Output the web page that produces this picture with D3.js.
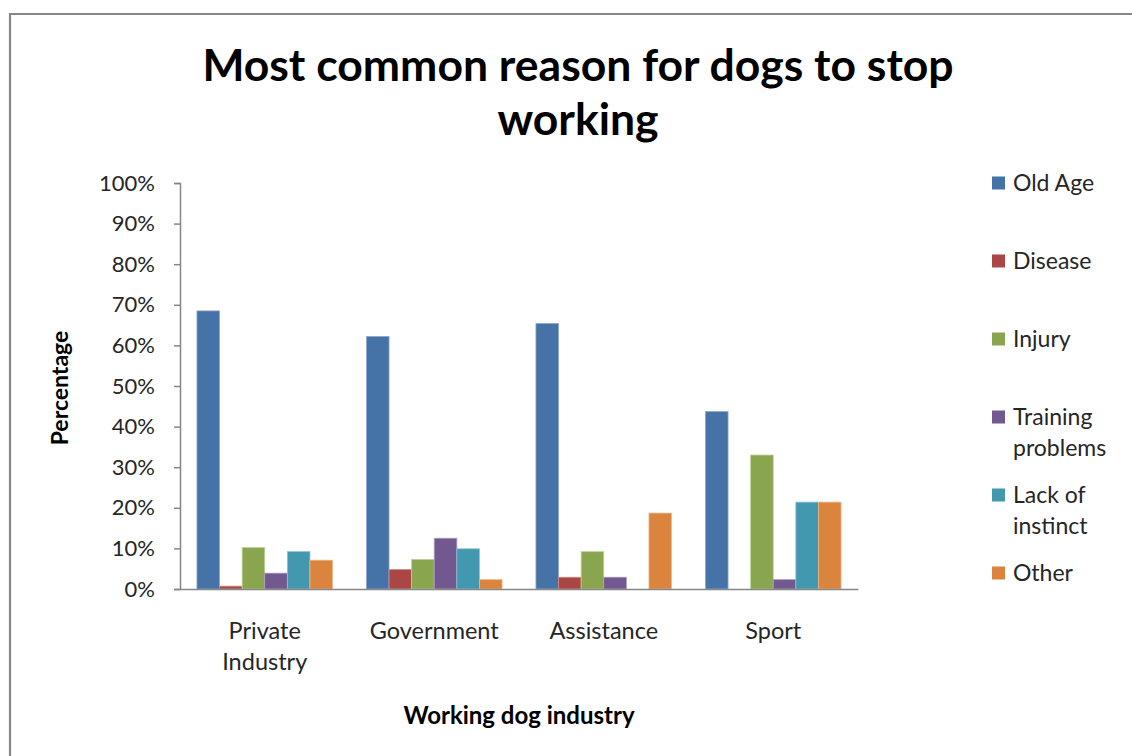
<!DOCTYPE html>
<html>
<head>
<meta charset="utf-8">
<script src="https://cdn.jsdelivr.net/npm/d3@7"></script>
<style>
  html, body { margin: 0; padding: 0; background: #fff; overflow: hidden; }
  svg { display: block; font-family: Lato, "Open Sans", sans-serif; }
</style>
</head>
<body>
<svg id="chart" width="1132" height="756"></svg>
<script>
// Working dog industries along the x axis
const categories = ["Private Industry", "Government", "Assistance", "Sport"];

// Reasons for retirement (percent of dogs in each industry)
const seriesNames = ["Old Age", "Disease", "Injury", "Training problems", "Lack of instinct", "Other"];
const oldAge         = [68.5, 62.2, 65.4, 43.7];
const disease        = [0.7, 4.8, 2.9, 0];
const injury         = [10.2, 7.3, 9.2, 33.0];
const trainingProbs  = [3.9, 12.5, 2.9, 2.3];
const lackOfInstinct = [9.2, 9.9, 0, 21.4];
const other          = [7.1, 2.3, 18.7, 21.4];

const yTicks = [0, 10, 20, 30, 40, 50, 60, 70, 80, 90, 100];

const seriesValues = [oldAge, disease, injury, trainingProbs, lackOfInstinct, other];
const colors = ["#4572A7", "#AA4643", "#89A54E", "#71588F", "#4198AF", "#DB843D"];
const strokes = ["#8FA9CE", "#CF8D8B", "#BFD39C", "#A898BD", "#8CC3D2", "#EDB78A"];

const svg = d3.select("#chart");

// Chart frame: only its top and left edges fall inside the page
svg.append("path")
  .attr("d", "M10,756 L10,14 L1132,14")
  .attr("fill", "none")
  .attr("stroke", "#878787")
  .attr("stroke-width", 2.2);

const plot = { left: 180, right: 858, top: 183, bottom: 589 };

const x = d3.scaleBand()
  .domain(categories)
  .range([plot.left, plot.right])
  .paddingInner(0.2)
  .paddingOuter(0.1);

const xInner = d3.scaleBand()
  .domain(seriesNames)
  .range([0, x.bandwidth()]);

const y = d3.scaleLinear()
  .domain([0, 100])
  .range([plot.bottom, plot.top]);

// Bars
const groups = svg.append("g").selectAll("g")
  .data(categories)
  .join("g")
  .attr("transform", d => `translate(${x(d)},0)`);

groups.selectAll("rect")
  .data((c, ci) => seriesNames.map((s, si) => ({ s, si, v: seriesValues[si][ci] })))
  .join("rect")
  .filter(d => d.v > 0)
  .attr("x", d => xInner(d.s))
  .attr("y", d => y(d.v))
  .attr("width", xInner.bandwidth())
  .attr("height", d => y(0) - y(d.v))
  .attr("fill", d => colors[d.si])
  .attr("stroke", d => strokes[d.si])
  .attr("stroke-width", 0.8);

// Y axis
const yAxis = svg.append("g")
  .attr("transform", `translate(${plot.left},0)`)
  .call(d3.axisLeft(y).tickValues(yTicks).tickSize(6).tickPadding(19).tickFormat(d => d + "%"));
yAxis.select(".domain").attr("stroke", "#868686").attr("stroke-width", 1.5);
yAxis.selectAll(".tick line").attr("stroke", "#868686").attr("stroke-width", 1.5);
yAxis.selectAll(".tick text")
  .attr("fill", "#262626")
  .style("font-family", "Lato, sans-serif")
  .style("font-size", "22px");

// X axis line (no tick marks)
const xAxis = svg.append("g")
  .attr("transform", `translate(0,${plot.bottom})`)
  .call(d3.axisBottom(x).tickSize(0).tickFormat(""));
xAxis.select(".domain").attr("stroke", "#868686").attr("stroke-width", 1.5);

// Category labels, wrapped on spaces for the long one
const catLabels = svg.append("g")
  .style("font-size", "23.5px")
  .attr("fill", "#262626")
  .attr("text-anchor", "middle");
categories.forEach(c => {
  const words = c === "Private Industry" ? ["Private", "Industry"] : [c];
  const t = catLabels.append("text")
    .attr("x", x(c) + x.bandwidth() / 2)
    .attr("y", 639);
  words.forEach((w, i) => {
    t.append("tspan")
      .attr("x", x(c) + x.bandwidth() / 2)
      .attr("dy", i === 0 ? 0 : 31)
      .text(w);
  });
});

// Axis titles
svg.append("text")
  .attr("x", 519).attr("y", 724)
  .attr("text-anchor", "middle")
  .style("font-size", "24px")
  .style("font-weight", "bold")
  .attr("fill", "#000")
  .text("Working dog industry");

svg.append("text")
  .attr("transform", "translate(68,388) rotate(-90)")
  .attr("text-anchor", "middle")
  .style("font-size", "23px")
  .style("font-weight", "bold")
  .attr("fill", "#000")
  .text("Percentage");

// Chart title
const title = svg.append("text")
  .attr("text-anchor", "middle")
  .style("font-size", "44.5px")
  .style("font-weight", "bold")
  .attr("fill", "#000");
title.append("tspan").attr("x", 578).attr("y", 81).text("Most common reason for dogs to stop");
title.append("tspan").attr("x", 578).attr("y", 135).text("working");

// Legend
const legendLines = [["Old Age"], ["Disease"], ["Injury"], ["Training", "problems"], ["Lack of", "instinct"], ["Other"]];
const legend = svg.append("g").attr("transform", "translate(992,0)");
const ly = d3.scalePoint().domain(seriesNames).range([183, 573]);
seriesNames.forEach((s, i) => {
  const g = legend.append("g").attr("transform", `translate(0,${ly(s)})`);
  g.append("rect")
    .attr("x", 0).attr("y", -6.5)
    .attr("width", 13).attr("height", 13)
    .attr("fill", colors[i]);
  const t = g.append("text")
    .attr("x", 21).attr("y", 8)
    .style("font-size", "23px")
    .attr("fill", "#262626");
  legendLines[i].forEach((w, j) => {
    t.append("tspan").attr("x", 21).attr("dy", j === 0 ? 0 : 31).text(w);
  });
});
</script>
</body>
</html>
